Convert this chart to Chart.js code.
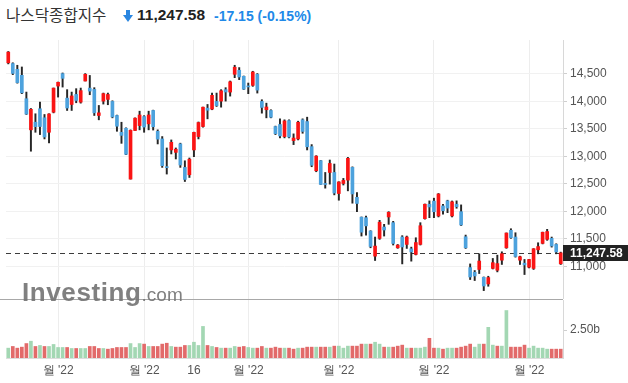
<!DOCTYPE html>
<html><head><meta charset="utf-8">
<script src="https://cdn.jsdelivr.net/npm/chart.js@4.4.0/dist/chart.umd.min.js"></script>
<style>
html,body{margin:0;padding:0;background:#fff;width:628px;height:383px;overflow:hidden;font-family:"Liberation Sans",Arial,sans-serif;}
#wrap{position:relative;width:628px;height:383px;}
#priceBox{position:absolute;left:0;top:40px;width:628px;height:259px;}
#volBox{position:absolute;left:0;top:299px;width:628px;height:84px;}
.t{position:absolute;white-space:nowrap;}
#sep{position:absolute;left:0;top:299px;width:563px;height:1px;background:#a8a8a8;}
</style></head>
<body><div id="wrap">
<div class="t" id="name" style="left:6px;top:3px;font-family:'Noto Sans CJK KR';font-size:15.6px;color:#333;line-height:22px;"></div>
<svg style="position:absolute;left:123px;top:10px" width="10" height="12" viewBox="0 0 10 12"><rect x="3" y="0" width="4" height="6" fill="#2a86e0"/><polygon points="0,5 10,5 5,12" fill="#2a86e0"/></svg>
<div class="t" id="last" style="left:137px;top:6px;font-size:15.5px;font-weight:bold;color:#222;line-height:18px"></div>
<div class="t" id="chg" style="left:214px;top:7px;font-size:14px;font-weight:bold;color:#2189e8;line-height:18px"></div>
<div id="priceBox"><canvas id="price"></canvas></div>
<div id="volBox"><canvas id="vol"></canvas></div>
<div id="sep"></div>
<div class="t" id="wm" style="left:22px;top:277px;color:#767676;opacity:.92;line-height:26px"><span style="font:bold 26px 'Liberation Sans';letter-spacing:0.6px">Investing</span><span style="font:19px 'Liberation Sans'">.com</span></div>
</div>
<script>
const titleName = '나스닥종합지수';
const dates = ['01-14','01-18','01-19','01-20','01-21','01-24','01-25','01-26','01-27','01-28','01-31',
'02-01','02-02','02-03','02-04','02-07','02-08','02-09','02-10','02-11','02-14','02-15','02-16','02-17','02-18','02-22','02-23','02-24','02-25','02-28',
'03-01','03-02','03-03','03-04','03-07','03-08','03-09','03-10','03-11','03-14','03-15','03-16','03-17','03-18','03-21','03-22','03-23','03-24','03-25','03-28','03-29','03-30','03-31',
'04-01','04-04','04-05','04-06','04-07','04-08','04-11','04-12','04-13','04-14','04-18','04-19','04-20','04-21','04-22','04-25','04-26','04-27','04-28','04-29',
'05-02','05-03','05-04','05-05','05-06','05-09','05-10','05-11','05-12','05-13','05-16','05-17','05-18','05-19','05-20','05-23','05-24','05-25','05-26','05-27','05-31',
'06-01','06-02','06-03','06-06','06-07','06-08','06-09','06-10','06-13','06-14','06-15','06-16','06-17','06-21','06-22','06-23','06-24','06-27','06-28','06-29','06-30',
'07-01','07-05','07-06','07-07','07-08','07-11','07-12','07-13'];
const opens = [14700,14686,14582,14473,14047,13482,13621,13865,13701,13438,13803,
14277,14503,14058,13943,14126,13985,14369,14240,14217,13743,14004,14035,13998,13743,13438,13511,12588,13470,13560,
13724,13591,13834,13456,13317,12800,13117,13073,13226,12800,12666,13117,13360,13542,13876,13858,13998,14004,14212,14168,14491,14564,14454,
14272,14290,14491,13998,13847,13834,13542,13579,13360,13651,13287,13317,13664,13633,13177,12739,12922,12508,12708,12708,
12325,12508,12569,12800,12257,11896,11887,11644,11188,11511,11717,11900,11796,11340,11535,11401,11321,11219,11401,11869,12131,
12187,11918,12100,12192,11918,12131,11996,11540,10980,10895,10946,10804,10683,10965,10932,11115,11340,11657,11535,11115,11060,
10987,10965,11303,11420,11493,11511,11401,11049];
const highs = [14905,14700,14655,14624,14168,13870,13774,13986,13761,13775,14242,
14350,14515,14212,14168,14230,14241,14504,14470,14248,13925,14150,14150,14010,13750,13620,13520,13482,13700,13821,
13740,13821,13840,13482,13360,13153,13299,13153,13240,12920,12971,13440,13625,13895,13943,14150,14150,14212,14248,14369,14655,14613,14460,
14332,14546,14504,14029,13967,13847,13550,13682,13664,13664,13409,13639,13682,13712,13214,13013,12925,12708,12934,12861,
12540,12600,12982,12810,12343,11900,11918,11650,11535,11839,11766,11996,11820,11400,11560,11553,11352,11522,11796,12135,12192,
12241,12326,12131,12204,12190,12192,12119,11571,11047,10927,11230,10810,10823,11146,11206,11267,11610,11686,11613,11188,11128,
11130,11325,11431,11625,11675,11535,11413,11261];
const lows = [14680,14485,14330,14139,13761,13094,13438,13396,13317,13245,13790,
14077,14259,13834,13834,13974,13967,14369,14120,13743,13664,13950,13938,13700,13456,13237,13030,12587,13470,13482,
13438,13482,13478,13226,12800,12679,13044,12953,12800,12544,12617,12995,13317,13529,13682,13847,13907,13894,14004,14095,14430,14394,14215,
14139,14272,14150,13785,13700,13700,13396,13336,13336,13336,13214,13299,13420,13117,12812,12721,12490,12423,12496,12301,
12204,12480,12374,12150,11996,11553,11570,11340,11109,11493,11553,11766,11390,11330,11047,11328,11097,11210,11390,11860,11887,
11887,11900,11949,11978,11900,12058,11744,11328,10763,10745,10872,10562,10641,10955,10902,11037,11330,11511,11170,11037,10854,
10974,10946,11230,11410,11475,11352,11230,11037];
const closes = [14893.75,14506.90,14340.26,14154.02,13768.92,13855.13,13539.29,13542.12,13352.78,13770.57,14239.88,
14346.00,14417.55,13878.82,14098.01,14015.67,14194.46,14490.37,14185.64,13791.15,13790.92,14139.76,14124.09,13716.72,13548.07,13381.52,13037.49,13473.59,13694.62,13751.40,
13532.46,13752.02,13537.94,13313.44,12830.96,12795.55,13255.55,13129.96,12843.81,12581.22,12948.62,13436.55,13614.78,13893.84,13838.46,14108.82,13922.60,14191.84,14169.30,14354.90,14619.64,14442.28,14220.52,
14261.50,14532.55,14204.17,13888.82,13897.30,13711.00,13411.96,13371.57,13643.59,13351.08,13332.36,13619.66,13453.07,13174.65,12839.29,13004.85,12490.74,12488.93,12871.53,12334.64,
12536.02,12563.76,12964.86,12317.69,12144.66,11623.25,11737.67,11364.24,11370.96,11805.00,11662.79,11984.52,11418.15,11388.50,11354.62,11535.27,11264.45,11434.74,11740.65,12131.13,12081.39,
11994.46,12316.90,12012.73,12061.37,12175.23,12086.27,11754.23,11340.02,10809.23,10828.35,11099.15,10646.10,10798.35,11069.30,11053.08,11232.19,11607.62,11524.55,11181.54,11177.89,11028.74,
11127.85,11322.24,11361.85,11621.35,11635.31,11372.60,11264.73,11247.58];
const volumes = [0.88,1.03,0.88,0.97,1.29,1.50,1.03,1.12,1.03,1.03,1.21,
0.94,0.94,0.94,0.85,0.85,0.85,0.85,1.03,1.03,0.85,0.85,0.79,0.85,0.94,0.94,0.94,1.29,0.94,1.29,
1.24,1.03,1.03,1.03,1.24,1.32,1.03,0.97,0.97,1.12,1.12,1.41,1.12,2.82,1.12,1.03,0.94,0.88,0.88,0.88,1.03,0.97,1.03,
0.94,0.88,0.88,1.03,0.88,0.88,0.97,0.88,0.88,0.88,0.79,0.88,0.88,0.97,0.97,0.97,0.97,0.97,0.97,1.06,
1.06,0.88,1.06,1.06,1.06,1.24,1.24,1.24,1.41,1.24,0.97,0.97,0.97,1.06,1.15,0.88,0.88,0.88,0.88,0.97,1.76,
0.88,0.88,0.79,0.88,0.88,0.88,0.97,1.06,1.24,0.97,1.24,1.24,2.74,1.15,1.06,1.06,4.24,0.97,0.97,0.97,1.15,
0.88,1.06,0.88,0.88,0.79,0.79,0.79,0.79];
const tickDates = ['02-01','03-01','03-16','04-01','05-02','06-01','07-01'];
const tickTexts = ["월 '22","월 '22","16","월 '22","월 '22","월 '22","월 '22"];
const priceTicks = [11000,11500,12000,12500,13000,13500,14000,14500];
const volumeTicks = [2.5];

const UP='#fa1414', DOWN='#4da2dd', WICK='#262626', VUP='#a3d7b3', VDOWN='#e26a6a';
const FONT = "'Liberation Sans', Arial, sans-serif";
const fmt = v => v.toLocaleString('en-US',{minimumFractionDigits:2, maximumFractionDigits:2});
const n = closes.length;
const lastPrice = closes[n-1];
const change = closes[n-1]-closes[n-2];
const pct = change/closes[n-2]*100;
document.getElementById('name').textContent = titleName;
document.getElementById('last').textContent = fmt(lastPrice);
document.getElementById('chg').textContent = change.toFixed(2)+' ('+pct.toFixed(2)+'%)';

const tickIdx = tickDates.map(d=>dates.indexOf(d));
const tickMap = new Map(tickIdx.map((v,i)=>[v,tickTexts[i]]));
const candleColors = opens.map((o,i)=>closes[i]>=o?UP:DOWN);
const volColors = closes.map((c,i)=> (i===0 || c>=closes[i-1]) ? VUP : VDOWN);

const lastPricePlugin = {
  id:'lastPrice',
  beforeDatasetsDraw(chart){
    const {ctx, chartArea, scales:{y}} = chart;
    const py = Math.round(y.getPixelForValue(lastPrice))+0.5;
    ctx.save(); ctx.strokeStyle='#3c3c3c'; ctx.lineWidth=1; ctx.setLineDash([5,4]);
    ctx.beginPath(); ctx.moveTo(chartArea.left, py); ctx.lineTo(chartArea.right, py); ctx.stroke(); ctx.restore();
  },
  afterDraw(chart){
    const {ctx, chartArea, scales:{y}} = chart;
    const py = Math.round(y.getPixelForValue(lastPrice));
    ctx.save(); ctx.fillStyle='#222'; ctx.fillRect(chartArea.right, py-8, chart.width-chartArea.right, 16);
    ctx.fillStyle='#fff'; ctx.font='bold 12px '+FONT; ctx.textBaseline='middle';
    ctx.fillText(fmt(lastPrice), chartArea.right+7, py+0.5); ctx.restore();
  }
};

const xTicksFn = ax => { ax.ticks = tickIdx.map(v=>({value:v})); };

new Chart(document.getElementById('price'), {
  type:'bar',
  data:{labels:dates, datasets:[
    {data: opens.map((o,i)=>[o,closes[i]]), backgroundColor:candleColors, barThickness:3, grouped:false, minBarLength:1, borderWidth:0, borderSkipped:false},
    {data: lows.map((l,i)=>[l,highs[i]]), backgroundColor:WICK, barThickness:1.3, grouped:false, borderWidth:0, borderSkipped:false}
  ]},
  options:{
    responsive:true, maintainAspectRatio:false, animation:false,
    layout:{padding:{left:6,right:0,top:0,bottom:0}},
    plugins:{legend:{display:false}, tooltip:{enabled:false}},
    scales:{
      x:{afterBuildTicks:xTicksFn, ticks:{display:false, autoSkip:false}, grid:{offset:false, color:'#ededed', drawTicks:false}, border:{display:false},
         afterFit: ax=>{ax.height=0; ax.paddingLeft=0; ax.paddingRight=0;}},
      y:{position:'right', min:10409.7, max:15113.9,
         afterBuildTicks: ax=>{ax.ticks = priceTicks.map(v=>({value:v}));},
         ticks:{callback:v=>v.toLocaleString('en-US'), font:{size:12, family:FONT}, color:'#555', padding:3, autoSkip:false},
         grid:{color:'#f1f1f1', tickColor:'#cfcfcf', tickLength:4}, border:{display:true, color:'#d8d8d8'},
         afterFit: ax=>{ax.width=65; ax.paddingTop=0; ax.paddingBottom=0;}}
    }
  },
  plugins:[lastPricePlugin]
});

new Chart(document.getElementById('vol'), {
  type:'bar',
  data:{labels:dates, datasets:[{data:volumes, backgroundColor:volColors, barThickness:3, borderWidth:0}]},
  options:{
    responsive:true, maintainAspectRatio:false, animation:false,
    layout:{padding:{left:6,right:0,top:1,bottom:0}},
    plugins:{legend:{display:false}, tooltip:{enabled:false}},
    scales:{
      x:{afterBuildTicks:xTicksFn,
         ticks:{autoSkip:false, maxRotation:0, minRotation:0, callback:v=>tickMap.get(v)||'', font:{size:12, family:FONT}, color:'#555', padding:5},
         grid:{offset:false, color:'#ededed', drawTicks:false}, border:{display:true, color:'#dcdcdc'},
         afterFit: ax=>{ax.height=25; ax.paddingLeft=0; ax.paddingRight=0;}},
      y:{position:'right', min:0, max:5.18,
         afterBuildTicks: ax=>{ax.ticks = volumeTicks.map(v=>({value:v}));},
         ticks:{callback:v=>v.toFixed(2)+'b', font:{size:12, family:FONT}, color:'#555', padding:3},
         grid:{drawOnChartArea:false, tickColor:'#cfcfcf', tickLength:4}, border:{display:true, color:'#d8d8d8'},
         afterFit: ax=>{ax.width=65; ax.paddingTop=0; ax.paddingBottom=0;}}
    }
  }
});
</script>
</body></html>
